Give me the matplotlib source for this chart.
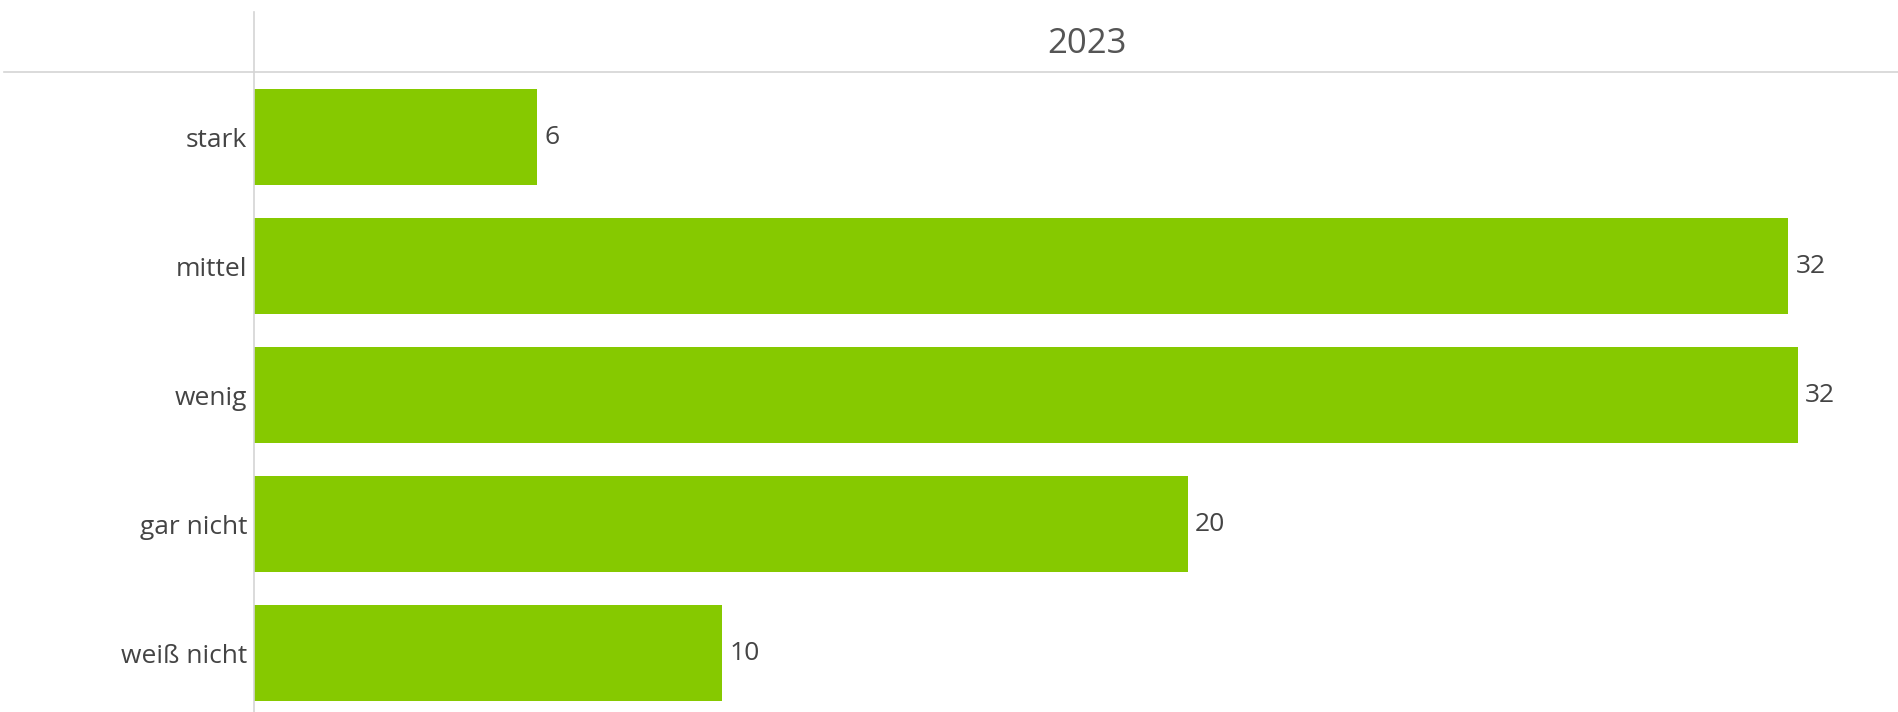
import matplotlib.pyplot as plt
from matplotlib.lines import Line2D

# data (percent, labels rounded)
categories = ['stark', 'mittel', 'wenig', 'gar nicht', 'weiß nicht']
values = [5.94, 32.2, 32.4, 19.6, 9.83]
year = '2023'

plt.rcParams['font.family'] = ['Open Sans', 'DejaVu Sans']

fig = plt.figure(figsize=(18.98, 7.12), dpi=100)
W, H = 1898, 712
ax = fig.add_axes([254 / W, 0, 1 - 254 / W, (712 - 72) / H])

y = list(range(len(categories)))
bars = ax.barh(y, values, height=0.745, color='#86c900')

ax.set_xlim(0, 34.5)
ax.set_ylim(4.457, -0.504)

for b, v in zip(bars, values):
    ax.text(b.get_width() + 0.15, b.get_y() + b.get_height() / 2, f'{v:.0f}',
            va='center', ha='left', fontsize=19, color='#444444')

ax.set_yticks(y)
ax.set_yticklabels(categories, fontsize=19, color='#444444')
ax.tick_params(axis='y', length=0, pad=5)
ax.set_xticks([])
for s in ax.spines.values():
    s.set_visible(False)

# header / divider lines
fig.add_artist(Line2D([4 / W, 1], [1 - 72 / H, 1 - 72 / H], color='#d4d4d4', lw=1.2))
fig.add_artist(Line2D([254 / W, 254 / W], [0, 1 - 12 / H], color='#d4d4d4', lw=1.2))
fig.text(1087 / W, 1 - 44 / H, year, ha='center', va='center', fontsize=25, color='#555555')

fig.savefig('out.png', dpi=100)
